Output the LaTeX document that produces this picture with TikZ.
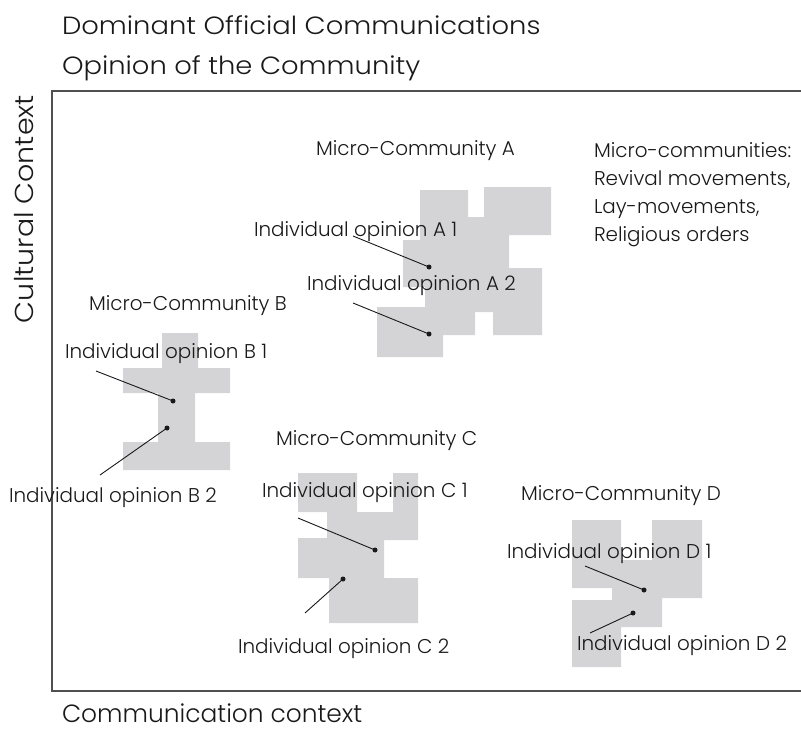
\documentclass[tikz,border=0pt]{standalone}
\usepackage{fontspec}
\setmainfont{Poppins}[UprightFont=* Light]
\newfontfamily\headfont{Poppins}[UprightFont=* Light, FakeStretch=1.1]
\definecolor{ink}{RGB}{25,25,25}
\definecolor{patch}{RGB}{212,212,214}
\definecolor{rule}{RGB}{80,80,80}
\newcommand\titlesize{\headfont\fontsize{25}{28}\selectfont}
\newcommand\axissize{\headfont\fontsize{26}{28}\selectfont}
\newcommand\labelsize{\fontsize{20}{28}\selectfont}
\tikzset{
  lbl/.style={anchor=base west, font=\labelsize},
  headline/.style={anchor=base west, font=\titlesize},
  patchfill/.style={fill=patch},
  lead/.style={draw=ink, line width=0.9bp},
  pin/.style={circle, fill=ink, minimum size=5bp, inner sep=0pt},
  framerule/.style={draw=rule, line width=1.6bp},
}
\begin{document}
\begin{tikzpicture}[x=1bp, y=-1bp, every node/.style={inner sep=0pt, outer sep=0pt, text=ink}]
\useasboundingbox (0,0) rectangle (801,731);

% axes frame, open on the right
\draw[framerule] (801,91) -- (52,91) -- (52,691) -- (801,691);

% headings and axis names
\node[headline] (t1) at (62,35) {Dominant Official Communications};
\node[headline] (t2) at (62,75) {Opinion of the Community};
\node[headline, font=\axissize, rotate=90] (yax) at (33,323) {Cultural Context};
\node[headline, font=\fontsize{25}{28}\selectfont, text depth=0pt] (xax) at (62,722) {Communication context};

% legend (anchored on the baseline of its last line)
\node[lbl, align=left] (legend) at (594,241)
  {Micro-communities:\\Revival movements,\\Lay-movements,\\Religious orders};

% community patches
\fill[patchfill] (420,190) -- (468,190) -- (468,217) -- (484,217) -- (484,187) -- (551,187)
  -- (551,235) -- (509,235) -- (509,268) -- (542,268) -- (542,335) -- (493,335)
  -- (493,312) -- (475,312) -- (475,335) -- (443,335) -- (443,357) -- (377,357)
  -- (377,307) -- (425,307) -- (425,287) -- (403,287) -- (403,240) -- (420,240) -- cycle;
\fill[patchfill] (162,333) -- (198,333) -- (198,368) -- (230,368) -- (230,393) -- (195,393)
  -- (195,442) -- (230,442) -- (230,470) -- (123,470) -- (123,442) -- (158,442)
  -- (158,393) -- (123,393) -- (123,368) -- (162,368) -- cycle;
\fill[patchfill] (298,473) -- (357,473) -- (357,512) -- (393,512) -- (393,473) -- (418,473)
  -- (418,540) -- (384,540) -- (384,578) -- (418,578) -- (418,623) -- (329,623)
  -- (329,578) -- (298,578) -- (298,538) -- (327,538) -- (327,512) -- (298,512) -- cycle;
\fill[patchfill] (572,520) -- (621,520) -- (621,560) -- (652,560) -- (652,520) -- (702,520)
  -- (702,598) -- (662,598) -- (662,627) -- (621,627) -- (621,667) -- (572,667)
  -- (572,600) -- (612,600) -- (612,588) -- (572,588) -- cycle;

% community names
\node[lbl] (mA) at (316,156) {Micro-Community A};
\node[lbl] (mB) at (89,310) {Micro-Community B};
\node[lbl] (mC) at (276,445) {Micro-Community C};
\node[lbl] (mD) at (521,500) {Micro-Community D};

% individual opinions
\node[lbl] (oA1) at (254,236) {Individual opinion A 1};
\node[lbl] (oA2) at (307,290) {Individual opinion A 2};
\node[lbl] (oB1) at (65,358) {Individual opinion B 1};
\node[lbl] (oB2) at (9,502) {Individual opinion B 2};
\node[lbl] (oC1) at (262,497) {Individual opinion C 1};
\node[lbl] (oC2) at (238,653) {Individual opinion C 2};
\node[lbl] (oD1) at (507,558) {Individual opinion D 1};
\node[lbl] (oD2) at (577,650) {Individual opinion D 2};

% pins marking each opinion
\node[pin] (pA1) at (429,267) {};
\node[pin] (pA2) at (429,334) {};
\node[pin] (pB1) at (173,401) {};
\node[pin] (pB2) at (167,428) {};
\node[pin] (pC1) at (375,550) {};
\node[pin] (pC2) at (343,579) {};
\node[pin] (pD1) at (644,590) {};
\node[pin] (pD2) at (633,613) {};

% leader line tails
\coordinate (sA1) at (353,236);
\coordinate (sA2) at (353,303);
\coordinate (sB1) at (96,371);
\coordinate (sB2) at (100,475);
\coordinate (sC1) at (298,518);
\coordinate (sC2) at (305,613);
\coordinate (sD1) at (585,566);
\coordinate (sD2) at (590,633);

\draw[lead] (sA1) -- (pA1.center);
\draw[lead] (sA2) -- (pA2.center);
\draw[lead] (sB1) -- (pB1.center);
\draw[lead] (sB2) -- (pB2.center);
\draw[lead] (sC1) -- (pC1.center);
\draw[lead] (sC2) -- (pC2.center);
\draw[lead] (sD1) -- (pD1.center);
\draw[lead] (sD2) -- (pD2.center);
\end{tikzpicture}
\end{document}
